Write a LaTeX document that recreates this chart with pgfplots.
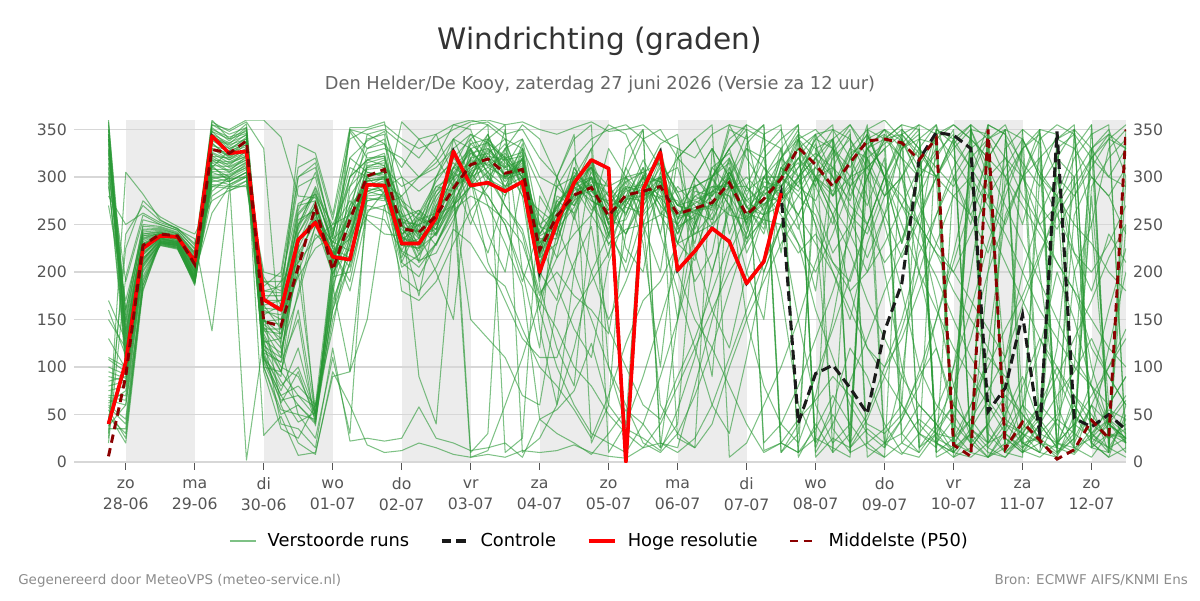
\documentclass[border=0pt]{standalone}
\usepackage{fontspec}
\setmainfont{DejaVu Sans}
\usepackage{pgfplots}
\pgfplotsset{compat=1.18}

\definecolor{ensgreen}{RGB}{40,152,52}
\definecolor{ctrlblack}{RGB}{26,26,26}
\definecolor{hresred}{RGB}{255,0,0}
\definecolor{p50red}{RGB}{139,0,0}
\definecolor{dayshade}{RGB}{236,236,236}
\definecolor{gridgrey}{RGB}{215,215,215}
\definecolor{ticktext}{RGB}{85,85,85}
\definecolor{titlegrey}{RGB}{51,51,51}
\definecolor{subgrey}{RGB}{102,102,102}
\definecolor{footgrey}{RGB}{140,140,140}

\tikzset{
  ens/.style={color=ensgreen, opacity=0.6, line width=0.75pt, line join=round},
  ticklbl/.style={font=\fontsize{11.3}{15.1}\selectfont, text=ticktext},
}
% one 6-hourly series (from 27-06 18:00), values separated by \\
\newcommand{\series}[2]{\addplot[#1] table[header=false, row sep=\\, x expr=\coordindex/4-0.25, y index=0] {#2};}
\newcommand{\member}[1]{\series{ens, forget plot}{#1}}
\newcommand{\dl}[2]{\vphantom{Ag}#1\\#2}

\begin{document}
\begin{tikzpicture}
\path[use as bounding box] (0,0) rectangle (864pt,432pt);

\node[anchor=base, inner sep=0pt, font=\fontsize{21.3}{25}\selectfont, text=titlegrey]
  at (432pt,396pt) {Windrichting (graden)};
\node[anchor=base, inner sep=0pt, font=\fontsize{12.8}{15}\selectfont, text=subgrey]
  at (432pt,367.9pt) {Den Helder/De Kooy, zaterdag 27 juni 2026 (Versie za 12 uur)};
\node[anchor=base west, inner sep=0pt, font=\fontsize{9.7}{12}\selectfont, text=footgrey]
  at (12.96pt,11.3pt) {Gegenereerd door MeteoVPS (meteo-service.nl)};
\node[anchor=base east, inner sep=0pt, font=\fontsize{9.7}{12}\selectfont, text=footgrey]
  at (855.4pt,11.3pt) {Bron: ECMWF AIFS/KNMI Ens};

\begin{axis}[
  anchor=south west, at={(53.28pt,99.36pt)},
  scale only axis, width=757.44pt, height=246.24pt,
  xmin=-0.75, xmax=14.5, ymin=0, ymax=360,
  axis x line*=bottom, axis y line*=left,
  axis line style={draw=none},
  tick align=outside,
  major tick length=5.4pt,
  xtick={0,...,14},
  xticklabels={\dl{zo}{28-06},\dl{ma}{29-06},\dl{di}{30-06},\dl{wo}{01-07},\dl{do}{02-07},
    \dl{vr}{03-07},\dl{za}{04-07},\dl{zo}{05-07},\dl{ma}{06-07},\dl{di}{07-07},
    \dl{wo}{08-07},\dl{do}{09-07},\dl{vr}{10-07},\dl{za}{11-07},\dl{zo}{12-07}},
  xtick style={color=ticktext, line width=1pt},
  xticklabel style={ticklbl, anchor=north, align=center, inner sep=0pt, yshift=-5.3pt},
  ytick={0,50,...,350},
  ytick style={draw=none},
  yticklabel style={ticklbl, anchor=east, inner sep=0pt, xshift=0.4pt},
  /pgf/number format/assume math mode=true,
  legend style={draw=none, fill=none, at={(0.5,-0.231)}, anchor=center,
    legend columns=4, font=\fontsize{12.85}{15}\selectfont, text=black,
    /tikz/every odd column/.append style={column sep=6.2pt},
    /tikz/every even column/.append style={column sep=20.2pt}},
  legend image code/.code={\draw[#1] (0pt,0pt) -- (18.7pt,0pt);},
]
% alternating day bands
\addplot[fill=dayshade, draw=none, forget plot] coordinates {(0,360) (1,360)} \closedcycle;
\addplot[fill=dayshade, draw=none, forget plot] coordinates {(2,360) (3,360)} \closedcycle;
\addplot[fill=dayshade, draw=none, forget plot] coordinates {(4,360) (5,360)} \closedcycle;
\addplot[fill=dayshade, draw=none, forget plot] coordinates {(6,360) (7,360)} \closedcycle;
\addplot[fill=dayshade, draw=none, forget plot] coordinates {(8,360) (9,360)} \closedcycle;
\addplot[fill=dayshade, draw=none, forget plot] coordinates {(10,360) (11,360)} \closedcycle;
\addplot[fill=dayshade, draw=none, forget plot] coordinates {(12,360) (13,360)} \closedcycle;
\addplot[fill=dayshade, draw=none, forget plot] coordinates {(14,360) (14.5,360)} \closedcycle;
% horizontal grid lines above the bands
\pgfplotsinvokeforeach{0,50,...,350}{
  \addplot[gridgrey, line width=0.75pt, forget plot] coordinates {(-0.75,#1) (14.5,#1)};
}

% perturbed ensemble members
\series{ens}{360\\135\\240\\243\\238\\214\\348\\332\\345\\150\\125\\240\\270\\220\\255\\310\\318\\268\\225\\280\\302\\328\\305\\330\\290\\248\\240\\300\\265\\285\\260\\310\\275\\240\\292\\255\\318\\280\\250\\305\\330\\290\\250\\320\\345\\300\\230\\285\\350\\340\\15\\40\\300\\250\\320\\10\\30\\280\\60\\20\\}
\addlegendentry{Verstoorde runs}
\member{355\\120\\232\\240\\236\\208\\340\\325\\338\\140\\110\\210\\262\\205\\245\\300\\305\\230\\258\\245\\310\\298\\338\\285\\325\\200\\275\\262\\312\\238\\300\\268\\315\\285\\245\\298\\270\\240\\300\\280\\340\\320\\300\\275\\330\\350\\338\\300\\20\\10\\30\\355\\345\\60\\40\\15\\200\\250\\330\\350\\}
\member{350\\150\\245\\246\\240\\218\\352\\338\\352\\165\\140\\260\\280\\230\\270\\318\\325\\255\\212\\270\\282\\340\\310\\322\\295\\260\\238\\310\\280\\275\\295\\250\\305\\270\\290\\250\\305\\275\\260\\270\\300\\250\\200\\150\\230\\280\\330\\340\\355\\300\\260\\220\\280\\330\\20\\45\\30\\15\\10\\50\\}
\member{345\\110\\226\\238\\234\\205\\335\\322\\330\\125\\95\\180\\250\\198\\238\\295\\300\\228\\225\\240\\270\\300\\340\\355\\10\\25\\60\\120\\200\\240\\310\\350\\20\\15\\80\\150\\220\\260\\300\\330\\355\\15\\60\\120\\90\\40\\10\\5\\30\\25\\60\\110\\90\\40\\20\\8\\25\\60\\40\\20\\}
\member{340\\145\\236\\241\\237\\211\\330\\318\\326\\160\\150\\230\\45\\180\\350\\330\\340\\222\\262\\238\\275\\305\\345\\298\\318\\190\\280\\270\\300\\228\\270\\300\\262\\250\\280\\290\\280\\230\\295\\290\\320\\345\\10\\30\\350\\300\\270\\310\\345\\355\\340\\320\\25\\10\\30\\50\\260\\300\\280\\240\\}
\member{335\\125\\228\\239\\235\\207\\325\\315\\322\\135\\100\\90\\50\\175\\290\\310\\312\\235\\230\\250\\280\\5\\12\\60\\110\\170\\230\\290\\330\\355\\345\\300\\240\\180\\120\\60\\30\\110\\200\\250\\280\\310\\340\\355\\320\\250\\180\\100\\60\\40\\20\\5\\15\\60\\120\\200\\150\\80\\30\\10\\}
\member{330\\160\\250\\248\\242\\220\\320\\310\\318\\170\\170\\270\\275\\215\\260\\285\\292\\280\\235\\300\\315\\295\\325\\340\\285\\240\\262\\320\\275\\265\\310\\275\\320\\245\\262\\310\\325\\290\\265\\320\\300\\335\\280\\300\\355\\20\\45\\80\\150\\220\\300\\340\\350\\10\\20\\340\\350\\25\\15\\5\\}
\member{325\\105\\222\\236\\232\\203\\315\\305\\315\\120\\85\\60\\42\\165\\230\\290\\296\\240\\250\\228\\268\\320\\300\\280\\330\\215\\230\\290\\310\\250\\255\\295\\280\\275\\240\\262\\300\\250\\285\\260\\230\\200\\240\\290\\310\\330\\345\\325\\300\\10\\5\\20\\340\\300\\250\\210\\180\\120\\90\\60\\}
\member{320\\190\\255\\250\\244\\225\\310\\300\\310\\180\\185\\290\\300\\225\\215\\282\\288\\300\\285\\300\\340\\355\\358\\345\\350\\320\\300\\340\\355\\10\\40\\90\\150\\210\\250\\300\\330\\350\\20\\40\\80\\130\\180\\240\\300\\345\\30\\10\\350\\335\\310\\280\\250\\300\\350\\20\\60\\30\\45\\70\\}
\member{310\\140\\234\\240\\236\\209\\305\\298\\308\\145\\130\\200\\55\\195\\200\\275\\280\\262\\218\\265\\300\\310\\340\\315\\300\\230\\255\\278\\295\\290\\268\\262\\300\\230\\285\\280\\310\\268\\245\\310\\290\\275\\320\\340\\300\\260\\215\\255\\300\\335\\355\\15\\40\\30\\10\\280\\330\\355\\20\\250\\}
\member{300\\100\\220\\235\\231\\200\\300\\295\\305\\115\\75\\120\\48\\200\\225\\305\\302\\210\\195\\230\\270\\290\\280\\250\\200\\170\\140\\100\\80\\50\\30\\15\\40\\80\\120\\160\\200\\230\\260\\280\\300\\320\\340\\20\\50\\100\\150\\220\\260\\300\\330\\345\\15\\35\\60\\100\\70\\40\\25\\35\\}
\member{295\\115\\230\\238\\233\\206\\297\\292\\302\\110\\70\\80\\60\\212\\348\\320\\322\\235\\245\\290\\285\\335\\318\\295\\315\\205\\290\\300\\270\\245\\295\\305\\260\\290\\270\\245\\285\\300\\280\\300\\340\\295\\325\\350\\5\\20\\30\\60\\40\\80\\130\\200\\255\\300\\340\\355\\345\\320\\300\\330\\}
\member{280\\250\\262\\252\\246\\230\\292\\290\\300\\200\\195\\300\\310\\240\\300\\340\\345\\250\\230\\252\\320\\300\\330\\312\\280\\265\\250\\275\\318\\260\\240\\290\\330\\255\\300\\275\\260\\255\\310\\275\\245\\300\\260\\180\\120\\90\\140\\200\\260\\310\\340\\30\\10\\5\\350\\345\\10\\60\\100\\140\\}
\member{270\\170\\240\\242\\238\\215\\290\\288\\296\\190\\190\\272\\282\\250\\260\\345\\350\\335\\320\\345\\355\\360\\355\\340\\330\\290\\250\\200\\150\\100\\60\\20\\10\\30\\70\\120\\180\\240\\300\\320\\350\\5\\25\\15\\45\\90\\60\\30\\20\\10\\35\\65\\40\\20\\10\\5\\50\\30\\15\\25\\}
\member{350\\130\\238\\240\\235\\210\\285\\300\\2\\130\\40\\35\\15\\120\\22\\25\\22\\25\\58\\25\\20\\12\\15\\20\\5\\45\\30\\20\\8\\30\\55\\40\\15\\150\\250\\300\\340\\355\\12\\20\\45\\65\\90\\70\\40\\30\\50\\90\\120\\60\\35\\20\\50\\90\\40\\15\\8\\30\\55\\45\\}
\member{358\\155\\242\\244\\239\\216\\360\\340\\356\\155\\60\\20\\8\\95\\60\\18\\10\\12\\20\\15\\8\\5\\8\\5\\12\\10\\12\\18\\10\\6\\4\\15\\20\\10\\25\\60\\110\\160\\210\\250\\300\\340\\330\\290\\250\\300\\345\\355\\10\\25\\45\\20\\30\\12\\5\\20\\40\\25\\60\\90\\}
\member{170\\128\\229\\237\\233\\204\\355\\345\\352\\138\\135\\250\\268\\210\\265\\298\\300\\215\\255\\262\\295\\318\\298\\288\\335\\225\\270\\295\\280\\235\\288\\270\\295\\265\\255\\300\\315\\235\\270\\300\\315\\270\\220\\250\\300\\340\\320\\270\\230\\200\\240\\280\\310\\340\\300\\260\\220\\200\\230\\270\\}
\member{160\\112\\225\\236\\231\\202\\350\\342\\348\\128\\115\\215\\258\\202\\242\\296\\298\\275\\240\\240\\280\\325\\312\\325\\300\\210\\245\\268\\305\\270\\275\\318\\285\\240\\275\\265\\300\\275\\290\\285\\260\\300\\330\\310\\340\\350\\330\\345\\25\\15\\60\\100\\140\\175\\220\\260\\290\\320\\340\\330\\}
\member{130\\98\\218\\234\\230\\198\\345\\336\\344\\118\\105\\150\\38\\185\\235\\312\\315\\180\\170\\190\\230\\265\\290\\330\\355\\340\\300\\260\\200\\150\\190\\240\\290\\320\\340\\355\\5\\20\\60\\100\\150\\210\\260\\300\\330\\310\\270\\230\\195\\150\\110\\80\\45\\30\\55\\90\\130\\170\\215\\250\\}
\member{108\\95\\215\\233\\229\\196\\338\\330\\336\\112\\80\\100\\52\\190\\270\\292\\290\\245\\228\\275\\305\\290\\335\\300\\310\\250\\265\\305\\290\\255\\300\\280\\310\\280\\250\\285\\295\\262\\255\\300\\330\\345\\300\\255\\215\\260\\300\\340\\335\\5\\15\\40\\10\\25\\50\\340\\330\\300\\280\\310\\}
\member{85\\90\\212\\232\\228\\194\\333\\328\\334\\108\\90\\230\\272\\208\\280\\308\\310\\290\\300\\310\\330\\345\\336\\320\\326\\235\\185\\140\\110\\210\\260\\300\\335\\345\\220\\160\\120\\200\\260\\320\\340\\300\\260\\220\\170\\130\\90\\60\\40\\20\\45\\75\\110\\165\\215\\270\\320\\345\\355\\10\\}
\member{80\\85\\210\\231\\227\\193\\328\\326\\332\\105\\65\\70\\58\\170\\218\\288\\285\\258\\265\\250\\270\\315\\322\\318\\292\\235\\235\\282\\300\\280\\262\\300\\270\\250\\280\\270\\320\\245\\300\\275\\300\\320\\280\\330\\350\\360\\340\\300\\325\\345\\20\\40\\70\\50\\25\\10\\35\\85\\160\\225\\}
\member{75\\80\\208\\230\\226\\191\\322\\320\\328\\100\\55\\50\\45\\150\\210\\280\\282\\205\\218\\242\\276\\150\\130\\110\\70\\60\\165\\210\\248\\140\\100\\60\\45\\90\\130\\180\\230\\280\\320\\340\\355\\10\\40\\85\\130\\180\\220\\260\\300\\330\\350\\310\\270\\230\\190\\150\\110\\80\\40\\25\\}
\member{70\\70\\205\\229\\225\\189\\318\\316\\324\\28\\48\\7\\10\\90\\95\\265\\270\\195\\180\\205\\245\\230\\200\\185\\140\\100\\80\\55\\25\\70\\125\\170\\190\\230\\212\\285\\355\\320\\290\\270\\230\\160\\110\\60\\30\\15\\45\\95\\150\\210\\270\\320\\350\\340\\305\\280\\250\\230\\200\\180\\}
\member{65\\60\\200\\228\\225\\187\\312\\311\\320\\148\\145\\225\\262\\218\\240\\302\\305\\228\\235\\285\\298\\330\\305\\290\\320\\218\\275\\290\\275\\265\\285\\290\\300\\270\\262\\255\\290\\290\\270\\290\\310\\340\\355\\15\\35\\20\\8\\30\\55\\100\\160\\230\\290\\330\\350\\20\\10\\35\\120\\200\\}
\member{60\\45\\195\\232\\230\\190\\308\\308\\318\\142\\120\\175\\240\\222\\190\\278\\275\\358\\340\\320\\355\\350\\300\\270\\245\\178\\200\\175\\160\\135\\240\\275\\300\\200\\150\\120\\80\\40\\10\\20\\10\\35\\70\\40\\15\\5\\20\\45\\30\\60\\35\\15\\5\\30\\60\\40\\15\\25\\45\\20\\}
\member{55\\25\\190\\229\\226\\186\\302\\303\\312\\162\\160\\255\\265\\228\\205\\270\\265\\252\\250\\258\\290\\302\\328\\308\\305\\200\\258\\275\\292\\240\\278\\275\\290\\262\\272\\285\\280\\252\\285\\300\\285\\320\\350\\340\\310\\280\\300\\330\\355\\20\\10\\355\\345\\315\\290\\320\\350\\20\\40\\65\\}
\member{50\\20\\182\\230\\228\\188\\295\\298\\300\\158\\155\\235\\255\\232\\222\\260\\255\\222\\212\\220\\255\\298\\210\\170\\130\\110\\110\\160\\190\\220\\275\\255\\60\\30\\15\\40\\100\\150\\190\\230\\260\\300\\310\\270\\250\\210\\235\\280\\320\\350\\10\\5\\35\\80\\130\\100\\60\\30\\10\\340\\}
\member{45\\98\\212\\235\\232\\199\\262\\290\\290\\175\\175\\248\\290\\245\\275\\255\\240\\238\\222\\268\\310\\312\\315\\335\\298\\238\\248\\302\\285\\272\\290\\285\\278\\258\\265\\270\\305\\268\\260\\310\\330\\300\\280\\320\\345\\300\\250\\200\\160\\120\\90\\60\\30\\15\\40\\70\\95\\130\\90\\60\\}
\member{40\\225\\275\\258\\248\\240\\275\\286\\292\\185\\200\\310\\320\\255\\340\\350\\355\\340\\330\\338\\350\\358\\360\\355\\358\\350\\345\\352\\358\\348\\350\\355\\340\\330\\320\\345\\355\\350\\340\\330\\10\\25\\15\\5\\350\\340\\355\\15\\30\\10\\350\\345\\320\\300\\270\\245\\280\\310\\340\\355\\}
\member{30\\305\\282\\255\\245\\235\\138\\285\\296\\195\\165\\334\\325\\260\\352\\352\\358\\262\\238\\245\\285\\320\\325\\300\\312\\225\\262\\288\\298\\250\\270\\302\\295\\248\\258\\290\\290\\258\\278\\275\\295\\310\\290\\330\\320\\335\\350\\330\\310\\290\\320\\340\\300\\270\\240\\210\\180\\150\\120\\100\\}
\member{20\\195\\260\\250\\244\\224\\355\\350\\360\\360\\342\\280\\278\\235\\250\\325\\330\\320\\300\\315\\340\\330\\270\\230\\185\\45\\55\\75\\125\\60\\35\\25\\12\\55\\110\\200\\270\\335\\355\\10\\40\\90\\140\\195\\250\\300\\335\\355\\345\\320\\290\\250\\210\\170\\130\\90\\50\\20\\5\\15\\}
\member{340\\118\\238\\242\\236\\212\\336\\320\\335\\112\\62\\95\\44\\205\\300\\318\\322\\262\\90\\40\\250\\330\\290\\350\\200\\120\\300\\345\\20\\60\\280\\310\\240\\330\\180\\90\\300\\345\\260\\180\\60\\20\\340\\280\\320\\15\\90\\240\\350\\30\\10\\200\\330\\350\\40\\120\\300\\20\\5\\60\\}
\member{315\\138\\230\\239\\235\\206\\322\\312\\328\\100\\50\\60\\40\\215\\265\\300\\306\\238\\262\\295\\320\\340\\355\\10\\25\\280\\250\\300\\330\\100\\40\\300\\270\\150\\300\\330\\240\\290\\330\\350\\300\\250\\35\\10\\345\\300\\230\\310\\20\\45\\350\\300\\100\\15\\30\\330\\345\\250\\40\\25\\}
\member{290\\148\\244\\245\\240\\219\\342\\335\\350\\148\\150\\195\\225\\238\\320\\338\\348\\300\\240\\200\\150\\320\\345\\300\\330\\185\\120\\80\\260\\330\\300\\250\\200\\320\\340\\300\\270\\200\\150\\300\\345\\20\\50\\20\\330\\350\\300\\200\\120\\50\\20\\340\\355\\310\\200\\60\\15\\330\\350\\300\\}
\member{110\\100\\218\\236\\232\\201\\318\\306\\322\\122\\110\\230\\262\\196\\252\\296\\298\\240\\175\\265\\300\\250\\300\\320\\280\\160\\240\\310\\280\\215\\330\\350\\15\\40\\260\\300\\330\\355\\345\\10\\30\\300\\270\\240\\200\\260\\340\\15\\40\\10\\330\\290\\60\\20\\10\\45\\100\\330\\345\\20\\}
\member{95\\88\\214\\233\\229\\197\\326\\318\\330\\108\\70\\42\\52\\186\\95\\150\\270\\280\\300\\320\\290\\305\\280\\250\\190\\245\\300\\255\\320\\270\\240\\280\\300\\250\\190\\220\\310\\250\\200\\250\\150\\60\\20\\40\\300\\340\\355\\350\\10\\300\\250\\330\\15\\45\\300\\345\\20\\60\\10\\350\\}
\member{62\\75\\206\\231\\227\\194\\330\\322\\338\\132\\95\\160\\50\\160\\230\\315\\320\\250\\265\\240\\340\\300\\240\\200\\300\\140\\60\\200\\310\\250\\290\\230\\100\\255\\300\\330\\300\\220\\260\\330\\250\\180\\310\\345\\20\\35\\60\\330\\300\\340\\310\\20\\45\\350\\335\\10\\25\\290\\320\\340\\}
\member{35\\35\\186\\233\\230\\193\\300\\300\\314\\155\\165\\265\\305\\242\\320\\305\\300\\230\\225\\260\\270\\290\\320\\310\\340\\250\\215\\290\\260\\300\\225\\200\\300\\310\\255\\200\\265\\330\\320\\220\\340\\350\\330\\300\\270\\320\\60\\30\\15\\100\\200\\320\\350\\20\\25\\300\\200\\100\\40\\25\\}
\member{25\\240\\270\\254\\246\\228\\312\\295\\305\\190\\180\\300\\315\\235\\350\\345\\335\\310\\340\\345\\300\\10\\30\\330\\340\\300\\290\\320\\340\\350\\355\\340\\310\\25\\15\\330\\300\\250\\345\\355\\5\\40\\10\\300\\310\\330\\20\\10\\35\\60\\300\\355\\25\\10\\40\\320\\300\\15\\30\\25\\}
\member{345\\100\\228\\240\\235\\210\\358\\348\\358\\330\\120\\50\\25\\110\\30\\290\\300\\210\\250\\300\\330\\260\\220\\280\\320\\200\\170\\260\\300\\240\\210\\290\\320\\280\\230\\310\\290\\150\\80\\40\\20\\70\\150\\250\\320\\280\\300\\250\\170\\80\\25\\5\\30\\60\\20\\15\\70\\50\\25\\40\\}
\member{328\\132\\235\\241\\236\\211\\310\\328\\342\\115\\105\\245\\285\\225\\180\\262\\285\\255\\235\\270\\310\\345\\320\\290\\300\\215\\290\\270\\315\\250\\200\\260\\280\\230\\290\\300\\330\\270\\240\\310\\290\\345\\350\\320\\280\\200\\100\\40\\20\\5\\30\\120\\260\\300\\320\\340\\355\\15\\45\\30\\}
\member{305\\160\\248\\247\\241\\221\\345\\330\\340\\168\\190\\210\\235\\250\\290\\330\\335\\275\\260\\290\\300\\335\\340\\320\\300\\240\\270\\295\\310\\290\\300\\340\\350\\320\\300\\280\\350\\340\\355\\20\\10\\330\\340\\10\\20\\5\\350\\330\\300\\340\\355\\5\\20\\340\\300\\280\\30\\355\\10\\300\\}
\member{150\\120\\220\\235\\230\\200\\348\\340\\346\\95\\35\\25\\60\\140\\240\\285\\280\\250\\210\\230\\260\\290\\305\\270\\240\\160\\100\\60\\30\\20\\10\\40\\90\\150\\220\\270\\300\\330\\310\\290\\260\\230\\200\\160\\120\\100\\130\\180\\230\\280\\300\\270\\240\\200\\160\\130\\100\\80\\60\\90\\}
\member{100\\92\\214\\232\\228\\196\\340\\334\\340\\100\\95\\70\\48\\160\\210\\300\\305\\240\\255\\245\\290\\300\\310\\300\\320\\230\\260\\280\\285\\260\\275\\300\\295\\270\\265\\280\\300\\255\\275\\300\\320\\290\\330\\355\\330\\300\\280\\250\\220\\180\\150\\120\\80\\50\\30\\20\\40\\70\\100\\130\\}
\member{90\\85\\208\\230\\226\\192\\316\\314\\322\\126\\130\\240\\275\\212\\250\\290\\294\\248\\242\\262\\292\\308\\320\\302\\306\\220\\250\\286\\292\\255\\280\\280\\292\\260\\268\\270\\296\\262\\282\\290\\320\\300\\285\\325\\335\\345\\320\\300\\330\\20\\355\\340\\10\\30\\20\\5\\350\\330\\15\\45\\}
\member{68\\65\\202\\228\\224\\189\\306\\305\\316\\140\\140\\220\\252\\226\\262\\285\\290\\256\\248\\280\\305\\325\\330\\310\\318\\226\\268\\292\\300\\266\\288\\292\\300\\270\\276\\284\\305\\268\\286\\320\\345\\330\\300\\260\\240\\290\\330\\350\\5\\15\\30\\10\\5\\25\\45\\20\\15\\5\\30\\20\\}
\member{58\\40\\192\\231\\229\\191\\298\\302\\310\\150\\135\\200\\248\\220\\235\\275\\278\\236\\232\\252\\284\\306\\314\\298\\304\\216\\252\\282\\288\\252\\276\\280\\288\\256\\264\\268\\290\\256\\272\\280\\310\\325\\310\\290\\330\\340\\345\\320\\340\\355\\340\\320\\300\\330\\345\\300\\280\\320\\345\\330\\}
\member{48\\30\\186\\231\\228\\190\\290\\296\\305\\165\\170\\262\\282\\230\\300\\318\\312\\270\\255\\285\\310\\330\\336\\318\\322\\240\\268\\300\\310\\280\\300\\305\\315\\284\\290\\300\\320\\285\\300\\300\\280\\260\\210\\190\\250\\300\\340\\310\\300\\280\\260\\300\\320\\280\\250\\270\\300\\330\\300\\290\\}
\member{38\\60\\180\\234\\231\\195\\280\\292\\300\\180\\178\\250\\288\\238\\310\\300\\282\\220\\205\\230\\265\\280\\270\\255\\230\\175\\215\\240\\260\\230\\245\\250\\260\\230\\240\\250\\270\\235\\255\\250\\220\\240\\210\\180\\200\\230\\270\\250\\220\\200\\170\\140\\110\\200\\260\\300\\220\\180\\240\\210\\}

% control run
\series{ctrlblack, line width=2.2pt, dash pattern=on 7pt off 3.6pt}{40\\105\\225\\238\\237\\211\\343\\325\\327\\171\\160\\234\\252\\216\\213\\292\\291\\230\\230\\257\\327\\291\\294\\285\\295\\200\\252\\294\\318\\309\\0\\287\\326\\202\\222\\246\\232\\188\\211\\283\\41\\93\\102\\78\\51\\138\\188\\318\\347\\344\\330\\53\\78\\155\\30\\348\\46\\37\\50\\34\\}
\addlegendentry{Controle}
% high resolution run (ten days)
\series{hresred, line width=2.6pt, line join=round}{40\\105\\225\\238\\237\\211\\343\\325\\327\\171\\160\\234\\252\\216\\213\\292\\291\\230\\230\\257\\327\\291\\294\\285\\295\\200\\252\\294\\318\\309\\0\\287\\326\\202\\222\\246\\232\\188\\211\\283\\}
\addlegendentry{Hoge resolutie}
% ensemble median
\series{p50red, line width=2.1pt, dash pattern=on 6pt off 4pt}{6\\90\\228\\240\\238\\208\\329\\325\\338\\148\\143\\205\\269\\202\\255\\301\\308\\246\\242\\259\\288\\313\\319\\304\\308\\223\\259\\281\\289\\259\\281\\285\\290\\261\\267\\273\\294\\260\\277\\298\\331\\313\\290\\315\\338\\340\\336\\318\\341\\18\\6\\350\\14\\42\\23\\3\\13\\44\\25\\350\\}
\addlegendentry{Middelste (P50)}
\end{axis}

\begin{axis}[
  anchor=south west, at={(53.28pt,99.36pt)},
  scale only axis, width=757.44pt, height=246.24pt,
  xmin=-0.75, xmax=14.5, ymin=0, ymax=360,
  axis line style={draw=none},
  xtick=\empty,
  ytick={0,50,...,350},
  ytick style={draw=none},
  yticklabel pos=right,
  yticklabel style={ticklbl, anchor=west, inner sep=0pt, xshift=5pt},
  /pgf/number format/assume math mode=true,
]
\addplot[draw=none, forget plot] coordinates {(0,0) (1,1)};
\end{axis}
\end{tikzpicture}
\end{document}
